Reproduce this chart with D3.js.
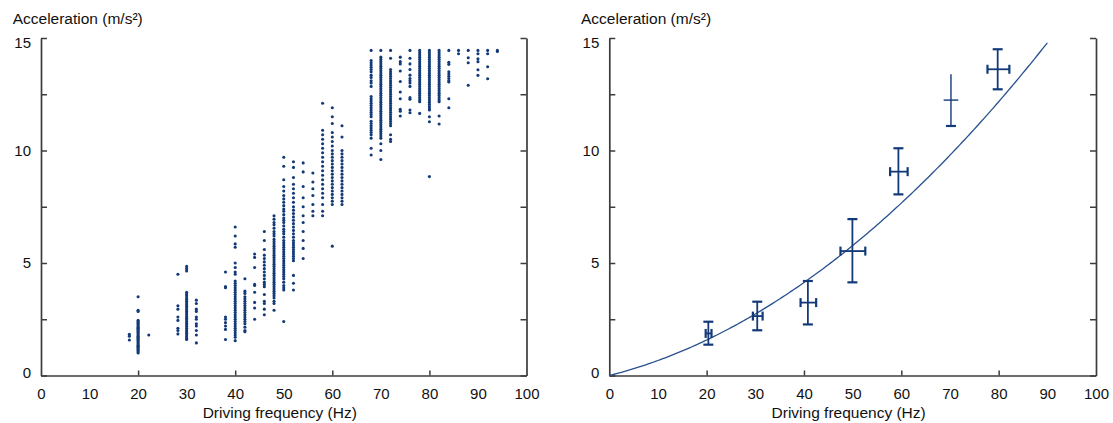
<!DOCTYPE html>
<html>
<head>
<meta charset="utf-8">
<script src="https://cdn.jsdelivr.net/npm/d3@7/dist/d3.min.js"></script>
<style>
  html, body { margin: 0; padding: 0; background: #fff; }
  svg { display: block; }
  text { font-family: "Liberation Sans", Arial, sans-serif; fill: #111; }
</style>
</head>
<body>
<svg id="chart" width="1113" height="423"></svg>
<script>
// Driving frequency of each measurement column (Hz)
const scatterFreq = [18.2, 20, 22.2, 28.2, 30, 32, 38, 40, 42, 44, 46, 48, 50, 52, 54, 56, 58, 60, 62,
  68, 70, 72, 74, 76, 78, 80, 82, 84, 86, 88, 90, 92, 94];

// Measured accelerations (m/s²) for each frequency column above
const scatterAccel = [
  [1.83, 1.75, 1.58],
  [3.5, 2.9, 2.85, 2.45, 2.4, 2.35, 2.3, 2.25, 2.2, 2.15, 2.1, 2.05, 2.0, 1.95, 1.9, 1.85, 1.8, 1.75, 1.7, 1.65,
   1.6, 1.55, 1.5, 1.45, 1.4, 1.35, 1.3, 1.25, 1.2, 1.15, 1.1, 1.05, 1.0],
  [1.8],
  [4.5, 3.1, 2.95, 2.6, 2.45, 2.1, 2.0, 1.85],
  [4.85, 4.75, 4.65, 3.7, 3.62, 3.55, 3.45, 3.38, 3.3, 3.22, 3.15, 3.08, 3.0, 2.92, 2.85, 2.78, 2.7, 2.62,
   2.55, 2.48, 2.4, 2.32, 2.25, 2.18, 2.1, 2.02, 1.95, 1.88, 1.8, 1.72, 1.65, 1.6],
  [3.35, 3.2, 2.95, 2.85, 2.6, 2.5, 2.3, 2.2, 2.0, 1.8, 1.45],
  [4.6, 3.95, 3.9, 2.6, 2.5, 2.35, 2.2, 2.05, 1.6],
  [6.6, 6.2, 5.85, 5.7, 5.0, 4.8, 4.6, 4.5, 4.2, 4.1, 4.0, 3.9, 3.8, 3.7, 3.6, 3.5, 3.4, 3.3, 3.2, 3.1, 3.0,
   2.9, 2.8, 2.7, 2.6, 2.5, 2.4, 2.3, 2.2, 2.1, 2.0, 1.9, 1.8, 1.7, 1.55],
  [4.3, 3.75, 3.65, 3.5, 3.4, 3.3, 3.2, 3.1, 3.0, 2.9, 2.8, 2.7, 2.6, 2.5, 2.4, 2.3, 2.15, 2.0, 1.95],
  [5.4, 5.25, 4.8, 4.05, 4.0, 3.7, 3.25, 3.0, 2.5],
  [6.4, 6.0, 5.6, 5.35, 5.2, 5.05, 4.9, 4.75, 4.6, 4.45, 4.3, 4.15, 4.05, 3.95, 3.6, 3.3, 3.2, 2.95, 2.7],
  [7.1, 6.95, 6.8, 6.7, 6.55, 6.4, 6.3, 6.2, 6.05, 5.95, 5.85, 5.75, 5.65, 5.55, 5.45, 5.35, 5.25, 5.15, 5.05,
   4.95, 4.85, 4.75, 4.65, 4.55, 4.45, 4.35, 4.25, 4.15, 4.05, 3.95, 3.85, 3.75, 3.65, 3.55, 3.45, 3.3, 3.2, 2.9],
  [9.7, 9.3, 8.7, 8.4, 8.2, 8.0, 7.85, 7.7, 7.55, 7.4, 7.3, 7.15, 7.0, 6.9, 6.8, 6.65, 6.5, 6.4, 6.3, 6.15,
   6.0, 5.9, 5.8, 5.7, 5.6, 5.5, 5.4, 5.3, 5.2, 5.1, 5.0, 4.9, 4.8, 4.7, 4.6, 4.5, 4.4, 4.3, 4.15, 4.0, 3.9, 3.8, 2.4],
  [9.5, 9.25, 8.8, 8.5, 8.3, 8.1, 7.9, 7.7, 7.5, 7.35, 7.2, 7.05, 6.9, 6.75, 6.6, 6.45, 6.3, 6.15, 6.0, 5.9,
   5.8, 5.7, 5.6, 5.5, 5.4, 5.3, 5.2, 5.1, 4.45, 4.1, 3.8],
  [9.45, 9.05, 8.4, 7.9, 7.5, 7.1, 6.8, 6.4, 6.0, 5.65, 5.2],
  [9.0, 8.6, 8.3, 8.0, 7.6, 7.3, 7.1],
  [12.1, 10.9, 10.7, 10.5, 10.3, 10.1, 9.9, 9.7, 9.5, 9.3, 9.1, 8.9, 8.7, 8.5, 8.3, 8.1, 7.9, 7.6, 7.3, 7.1],
  [11.9, 11.5, 11.2, 10.8, 10.6, 10.4, 10.2, 10.0, 9.85, 9.7, 9.55, 9.4, 9.25, 9.1, 8.95, 8.8, 8.65, 8.5,
   8.35, 8.2, 8.05, 7.9, 7.75, 7.6, 5.75],
  [11.1, 10.6, 10.0, 9.85, 9.7, 9.55, 9.4, 9.25, 9.1, 8.95, 8.8, 8.65, 8.5, 8.35, 8.2, 8.05, 7.9, 7.75, 7.6],
  [14.45, 14.0, 13.9, 13.8, 13.7, 13.6, 13.5, 13.35, 13.25, 13.1, 13.0, 12.85, 12.4, 12.3, 12.2, 12.1, 12.0,
   11.9, 11.8, 11.7, 11.6, 11.5, 11.3, 11.2, 11.1, 11.0, 10.9, 10.8, 10.7, 10.55, 10.1, 9.8],
  [14.45, 14.15, 14.05, 13.95, 13.85, 13.75, 13.65, 13.55, 13.45, 13.35, 13.25, 13.15, 13.05, 12.95, 12.85,
   12.75, 12.65, 12.55, 12.45, 12.35, 12.25, 12.15, 12.05, 11.95, 11.85, 11.75, 11.65, 11.55, 11.45, 11.35,
   11.25, 11.15, 11.05, 10.95, 10.85, 10.75, 10.65, 10.55, 10.3, 10.0, 9.6],
  [14.45, 14.1, 13.6, 13.5, 13.4, 13.3, 13.2, 13.1, 13.0, 12.9, 12.8, 12.7, 12.6, 12.5, 12.4, 12.3, 12.2,
   12.1, 12.0, 11.9, 11.8, 11.7, 11.6, 11.5, 11.4, 11.3, 11.2, 11.1, 10.7, 10.5, 10.4],
  [14.15, 13.95, 13.85, 13.53, 13.07, 12.6, 12.3, 11.83, 11.75, 11.53],
  [14.45, 14.1, 13.85, 13.6, 13.35, 13.2, 13.1, 13.0, 12.85, 12.35, 12.28, 11.8, 11.68],
  [14.45, 14.35, 14.25, 14.15, 14.05, 13.95, 13.85, 13.75, 13.65, 13.55, 13.45, 13.35, 13.25, 13.15, 13.05,
   12.95, 12.85, 12.75, 12.65, 12.55, 12.45, 12.35, 12.25, 12.17, 11.65],
  [14.45, 14.35, 14.25, 14.15, 14.05, 13.95, 13.85, 13.75, 13.65, 13.55, 13.45, 13.35, 13.25, 13.15, 13.05,
   12.95, 12.85, 12.75, 12.65, 12.55, 12.45, 12.35, 12.25, 12.15, 12.05, 11.95, 11.85, 11.8, 11.5, 11.28, 8.84],
  [14.45, 14.35, 14.25, 14.15, 14.05, 13.95, 13.85, 13.75, 13.65, 13.55, 13.45, 13.35, 13.25, 13.15, 13.05,
   12.95, 12.85, 12.75, 12.65, 12.55, 12.45, 12.35, 12.25, 12.17, 11.53, 11.18],
  [14.45, 13.92, 13.83, 13.5, 13.4, 13.3, 13.2, 13.1, 13.05, 12.3, 11.9],
  [14.45, 14.3],
  [14.45, 14.12, 13.9, 12.9],
  [14.45, 14.3, 14.08, 13.95, 13.59, 13.34],
  [14.45, 14.3, 13.72, 13.19],
  [14.45, 14.4]
];

// Binned means with uncertainty (right panel)
const binFreq = [20.35, 30.4, 40.8, 49.95, 59.4, 70.2, 79.8];
const binAccel = [1.87, 2.64, 3.24, 5.53, 9.06, 12.24, 13.61];
const binAccelLow = [1.37, 2.01, 2.27, 4.14, 8.05, 11.09, 12.72];
const binAccelHigh = [2.39, 3.28, 4.2, 6.95, 10.1, 13.39, 14.5];
const binFreqLow = [19.8, 29.5, 39.3, 47.5, 57.7, 68.7, 77.7];
const binFreqHigh = [21.0, 31.5, 42.5, 52.6, 61.3, 71.7, 82.2];
const binCapped = [true, true, true, true, true, false, true];

// Fitted curve a = b·f + c·f² over 0–90 Hz
const fitCoeffs = [0.0545, 0.00122];
const fitRange = [0, 90];

// Axis ticks
const xLabelTicks = [0, 10, 20, 30, 40, 50, 60, 70, 80, 90, 100];
const xMarkTicks = [20, 40, 60, 80];
const yMarkTicks = [0, 2.5, 5, 7.5, 10, 12.5, 15];
const yLabelTicks = [0, 5, 10, 15];

const xTitle = "Driving frequency (Hz)";
const yTitle = "Acceleration (m/s²)";

const svg = d3.select("#chart");
const AXIS = "#3c3c3c";
const NAVY = "#133a78";

const y = d3.scaleLinear().domain([0, 15]).range([375.5, 38]);

function drawFrame(x) {
  const [x0, x1] = x.range();
  const g = svg.append("g");

  // left axis with inward ticks
  const left = g.append("g").attr("transform", `translate(${x0},0)`)
    .call(d3.axisLeft(y).tickValues(yMarkTicks).tickSizeInner(-6).tickSizeOuter(0).tickPadding(10)
      .tickFormat(d => yLabelTicks.includes(d) ? d3.format("d")(d) : ""));
  left.selectAll("text").style("font-size", "15px")
    .attr("dy", d => d === 15 ? "0.62em" : d === 0 ? "0.1em" : "0.32em");

  // right axis (ticks only)
  g.append("g").attr("transform", `translate(${x1},0)`)
    .call(d3.axisRight(y).tickValues(yMarkTicks).tickSizeInner(-6).tickSizeOuter(0).tickFormat(""));

  // bottom axis labels
  const bottom = g.append("g").attr("transform", `translate(0,${y(0)})`)
    .call(d3.axisBottom(x).tickValues(xLabelTicks).tickSize(0).tickPadding(12.5).tickFormat(d3.format("d")));
  bottom.selectAll("text").style("font-size", "15px");

  // bottom inward ticks
  g.append("g").attr("transform", `translate(0,${y(0)})`)
    .call(d3.axisBottom(x).tickValues(xMarkTicks).tickSizeInner(-5).tickSizeOuter(0).tickFormat(""))
    .select(".domain").remove();

  g.selectAll(".domain").attr("stroke", AXIS).attr("stroke-width", 1.7);
  g.selectAll(".tick line").attr("stroke", AXIS).attr("stroke-width", 1.5);

  g.append("text").attr("x", (x0 + x1) / 2 - 4).attr("y", 417.5)
    .attr("text-anchor", "middle").style("font-size", "15.5px").text(xTitle);
  g.append("text").attr("x", x0 - 28.3).attr("y", 24)
    .style("font-size", "15.5px").text(yTitle);
}

// ---- Left panel: raw measurements ----
const xL = d3.scaleLinear().domain([0, 100]).range([41, 526.5]);
drawFrame(xL);

const points = scatterFreq.flatMap((f, i) => scatterAccel[i].map(a => ({ f, a })));
svg.append("g").selectAll("circle").data(points).join("circle")
  .attr("cx", d => xL(d.f)).attr("cy", d => y(d.a)).attr("r", 1.55)
  .attr("fill", NAVY);

// ---- Right panel: binned means and fit ----
const xR = d3.scaleLinear().domain([0, 100]).range([609.3, 1096]);
drawFrame(xR);

const fitData = d3.range(fitRange[0], fitRange[1] + 0.001, 0.5);
svg.append("path").datum(fitData)
  .attr("fill", "none").attr("stroke", "#28508f").attr("stroke-width", 1.3)
  .attr("d", d3.line().x(f => xR(f)).y(f => y(fitCoeffs[0] * f + fitCoeffs[1] * f * f)));

const bins = binFreq.map((f, i) => ({
  f, a: binAccel[i], aLo: binAccelLow[i], aHi: binAccelHigh[i],
  fLo: binFreqLow[i], fHi: binFreqHigh[i], capped: binCapped[i]
}));

const eb = svg.append("g").selectAll("g").data(bins).join("g")
  .attr("stroke", NAVY).attr("fill", "none");

// vertical bars
eb.append("line")
  .attr("x1", d => xR(d.f)).attr("x2", d => xR(d.f))
  .attr("y1", d => y(d.aLo)).attr("y2", d => y(d.aHi))
  .attr("stroke-width", d => d.capped ? 1.8 : 1.4);
// horizontal bars
eb.append("line")
  .attr("x1", d => xR(d.fLo)).attr("x2", d => xR(d.fHi))
  .attr("y1", d => y(d.a)).attr("y2", d => y(d.a))
  .attr("stroke-width", d => d.capped ? 1.8 : 1.4);
// bottom cap (all bins)
eb.append("line")
  .attr("x1", d => xR(d.f) - 5).attr("x2", d => xR(d.f) + 5)
  .attr("y1", d => y(d.aLo)).attr("y2", d => y(d.aLo))
  .attr("stroke-width", 2.2);
// top cap
eb.filter(d => d.capped).append("line")
  .attr("x1", d => xR(d.f) - 5).attr("x2", d => xR(d.f) + 5)
  .attr("y1", d => y(d.aHi)).attr("y2", d => y(d.aHi))
  .attr("stroke-width", 2.2);
// horizontal caps
eb.filter(d => d.capped).append("line")
  .attr("x1", d => xR(d.fLo)).attr("x2", d => xR(d.fLo))
  .attr("y1", d => y(d.a) - 4.5).attr("y2", d => y(d.a) + 4.5)
  .attr("stroke-width", 2.2);
eb.filter(d => d.capped).append("line")
  .attr("x1", d => xR(d.fHi)).attr("x2", d => xR(d.fHi))
  .attr("y1", d => y(d.a) - 4.5).attr("y2", d => y(d.a) + 4.5)
  .attr("stroke-width", 2.2);
</script>
</body>
</html>
